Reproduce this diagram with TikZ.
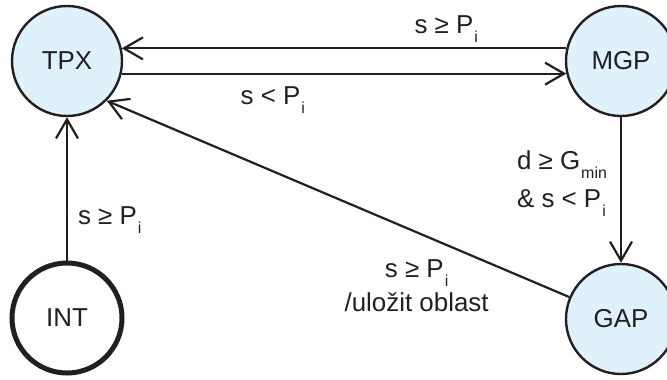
\documentclass[tikz,border=0pt]{standalone}
\usepackage{fontspec}
\setmainfont{Liberation Sans}
\usepackage{xcolor}
\usepackage{tikz}
\usetikzlibrary{arrows.meta}
\definecolor{FSMfill}{HTML}{DFF1FA}
\definecolor{FSMline}{HTML}{231F20}
\newcommand\lsub[1]{\kern1bp\raisebox{-9bp}{\fontsize{16}{16}\selectfont #1}}
\tikzset{
  statenode/.style={circle, draw=FSMline, line width=2.4bp, fill=FSMfill, minimum size=110bp, inner sep=0pt, font=\fontsize{26}{30}\selectfont, text=FSMline},
  startnode/.style={statenode, line width=5bp, fill=white},
  transarr/.style={-{Straight Barb[length=19bp, width=22bp]}, line width=2.2bp, draw=FSMline},
  translabel/.style={font=\fontsize{26}{34}\selectfont, text=FSMline, inner sep=2bp, align=center}
}
\begin{document}
\begin{tikzpicture}[x=1bp, y=-1bp]
\useasboundingbox (0,0) rectangle (667,379);
\clip (0,0) rectangle (667,379);
\node[statenode] (tpx) at (67,61) {TPX};
\node[statenode] (mgp) at (621,61) {MGP};
\node[startnode] (int) at (67,318) {INT};
\node[statenode] (gap) at (621,319) {GAP};
\draw[transarr] (mgp.167) -- node[translabel, pos=0.27, above=3bp] {s ≥ P\lsub{i}} (tpx.13);
\draw[transarr] (tpx.-13) -- node[translabel, pos=0.34, below=10bp] {s < P\lsub{i}} (mgp.193);
\draw[transarr] (mgp.south) -- node[translabel, pos=0.455, left=11bp, align=left] {d ≥ G\lsub{min}\\[4bp] \& s < P\lsub{i}} (gap.north);
\draw[transarr] (gap.157.5) -- node[translabel, pos=0.33, below=24bp] {s ≥ P\lsub{i}\\ /uložit oblast} (tpx.-45);
\draw[transarr] (int.north) -- node[translabel, pos=0.28, right=8bp] {s ≥ P\lsub{i}} (tpx.south);
\end{tikzpicture}
\end{document}
